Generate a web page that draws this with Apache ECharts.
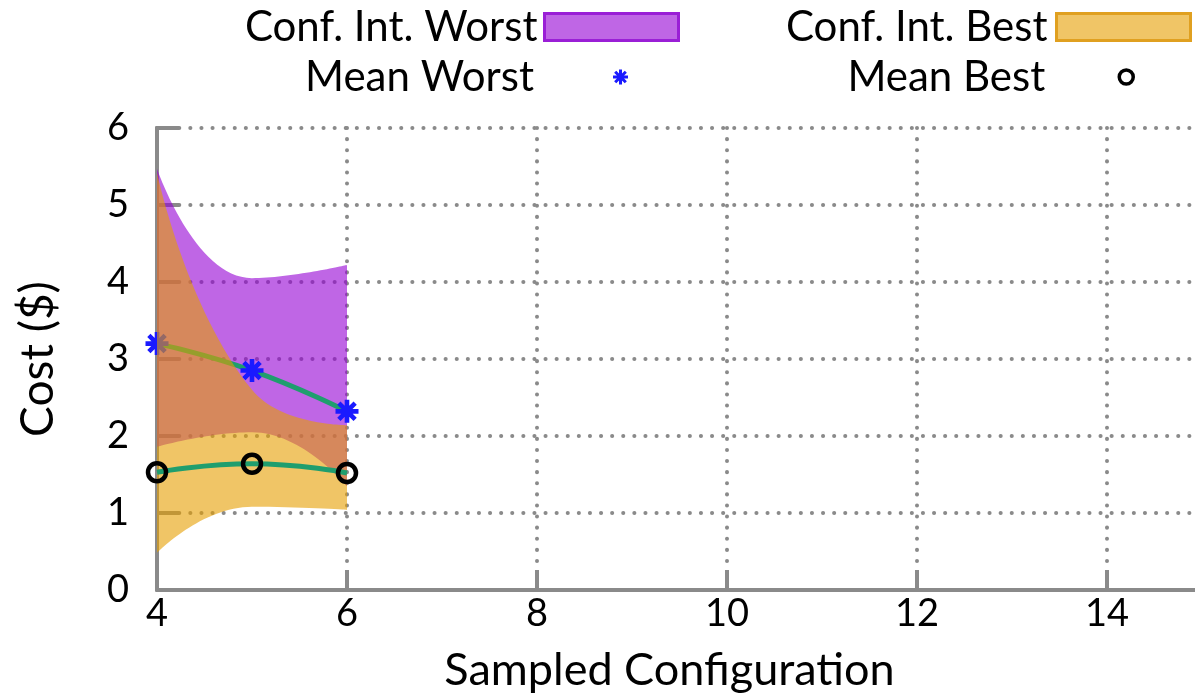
<!DOCTYPE html>
<html><head><meta charset="utf-8">
<script src="https://cdn.jsdelivr.net/npm/echarts@6/dist/echarts.min.js"></script>
<style>html,body{margin:0;padding:0;background:#fff}#c{width:1195px;height:696px}</style>
</head><body><div id="c"></div>
<script>
// x categories (Sampled Configuration)
const xCategories = ['4','5','6','7','8','9','10','11','12','13','14','15'];
// confidence interval bounds and means at x = 4, 5, 6
const worstUpper = [5.47, 4.05, 4.22];
const worstLower = [1.86, 2.05, 1.35];
const bestUpper  = [5.42, 2.60, 2.14];
const bestLower  = [0.48, 1.08, 1.04];
const meanWorst  = [3.20, 2.85, 2.32];
const meanBest   = [1.53, 1.64, 1.52];
const yTicks = [0, 1, 2, 3, 4, 5, 6];

const FONT = 'Lato';
const PURPLE_FILL = 'rgba(148,0,211,0.6)';
const ORANGE_FILL = 'rgba(230,159,0,0.6)';
const GREEN = '#1f9e6e';
const BLUE = '#1a1aff';
const GRAY = '#8a8a8a';
const STAR = 'path://M-10 -2L10 -2L10 2L-10 2Z M-2 -10L2 -10L2 10L-2 10Z ' +
  'M-5.657 -8.485L8.485 5.657L5.657 8.485L-8.485 -5.657Z ' +
  'M-5.657 8.485L-8.485 5.657L5.657 -8.485L8.485 -5.657Z';

const diff = (u, l) => u.map((v, i) => +(v - l[i]).toFixed(4));

const legendText = (pad) => ({ fontFamily: FONT, fontSize: 42, color: '#000', padding: pad || 0 });

const chart = echarts.init(document.getElementById('c'), null, { renderer: 'canvas' });
chart.setOption({
  animation: false,
  backgroundColor: '#fff',
  legend: [
    { right: 515, top: 6, align: 'right', itemWidth: 134, itemHeight: 27, padding: 0, selectedMode: false,
      textStyle: legendText([0, 2, 0, 0]),
      data: [{ name: 'Conf. Int. Worst', icon: 'rect',
        itemStyle: { color: PURPLE_FILL, borderColor: '#9a1fd6', borderWidth: 3 } }] },
    { right: 567, top: 56, align: 'right', itemWidth: 15, itemHeight: 15, padding: 0, selectedMode: false,
      textStyle: legendText([0, 74, 0, 0]),
      data: [{ name: 'Mean Worst', icon: STAR, itemStyle: { color: BLUE, borderWidth: 0 } }] },
    { right: 3, top: 6, align: 'right', itemWidth: 134, itemHeight: 27, padding: 0, selectedMode: false,
      textStyle: legendText([0, 4, 0, 0]),
      data: [{ name: 'Conf. Int. Best', icon: 'rect',
        itemStyle: { color: ORANGE_FILL, borderColor: '#e0a020', borderWidth: 3 } }] },
    { right: 60, top: 56, align: 'right', itemWidth: 14, itemHeight: 14, padding: 0, selectedMode: false,
      textStyle: legendText([0, 69, 0, 0]),
      data: [{ name: 'Mean Best', icon: 'circle',
        itemStyle: { color: 'rgba(0,0,0,0)', borderColor: '#000', borderWidth: 3.5 } }] }
  ],
  grid: { left: 157, right: -7, top: 128, bottom: 106, containLabel: false, outerBoundsMode: 'none' },
  xAxis: {
    type: 'category',
    data: xCategories,
    boundaryGap: false,
    name: 'Sampled Configuration',
    nameLocation: 'middle',
    nameGap: 58,
    nameTextStyle: { fontFamily: FONT, fontSize: 45, color: '#000', padding: [0, 20, 0, 0] },
    axisLine: { lineStyle: { color: GRAY, width: 4 } },
    axisTick: { show: true, inside: true, length: 20, interval: 1, lineStyle: { color: GRAY, width: 4 } },
    axisLabel: { interval: 1, margin: 5, fontFamily: FONT, fontSize: 38, color: '#000' },
    splitLine: { show: true, interval: 1,
      lineStyle: { color: GRAY, width: 4, type: [0.1, 11], cap: 'round' } }
  },
  yAxis: {
    type: 'value',
    min: yTicks[0], max: yTicks[yTicks.length - 1], interval: 1,
    name: 'Cost ($)',
    nameLocation: 'middle',
    nameGap: 96,
    nameTextStyle: { fontFamily: FONT, fontSize: 46, color: '#000' },
    axisLine: { show: true, lineStyle: { color: GRAY, width: 4 } },
    axisTick: { show: true, inside: true, length: 22, lineStyle: { color: GRAY, width: 4 } },
    axisLabel: { margin: 28, fontFamily: FONT, fontSize: 38, color: '#000' },
    splitLine: { show: true,
      lineStyle: { color: GRAY, width: 4, type: [0.1, 11], cap: 'round' } }
  },
  series: [
    { name: 'wLow', type: 'line', stack: 'w', smooth: true, symbol: 'none', silent: true, z: 2,
      data: worstLower, lineStyle: { opacity: 0, width: 0 } },
    { name: 'Conf. Int. Worst', type: 'line', stack: 'w', smooth: true, symbol: 'none', silent: true, z: 2,
      data: diff(worstUpper, worstLower), itemStyle: { color: PURPLE_FILL },
      lineStyle: { opacity: 0, width: 0 }, areaStyle: { color: PURPLE_FILL, opacity: 1 } },
    { name: 'Mean Worst', type: 'line', smooth: true, silent: true, clip: false, z: 3,
      data: meanWorst, symbol: STAR, symbolSize: 23, showSymbol: true,
      itemStyle: { color: BLUE }, lineStyle: { color: GREEN, width: 5 } },
    { name: 'bLow', type: 'line', stack: 'b', smooth: true, symbol: 'none', silent: true, z: 4,
      data: bestLower, lineStyle: { opacity: 0, width: 0 } },
    { name: 'Conf. Int. Best', type: 'line', stack: 'b', smooth: true, symbol: 'none', silent: true, z: 4,
      data: diff(bestUpper, bestLower), itemStyle: { color: ORANGE_FILL },
      lineStyle: { opacity: 0, width: 0 }, areaStyle: { color: ORANGE_FILL, opacity: 1 } },
    { name: 'Mean Best', type: 'line', smooth: true, silent: true, clip: false, z: 5,
      data: meanBest, symbol: 'circle', symbolSize: 18, showSymbol: true,
      itemStyle: { color: 'rgba(0,0,0,0)', borderColor: '#000', borderWidth: 4.5 },
      lineStyle: { color: GREEN, width: 5 } }
  ]
});
</script>
</body></html>
